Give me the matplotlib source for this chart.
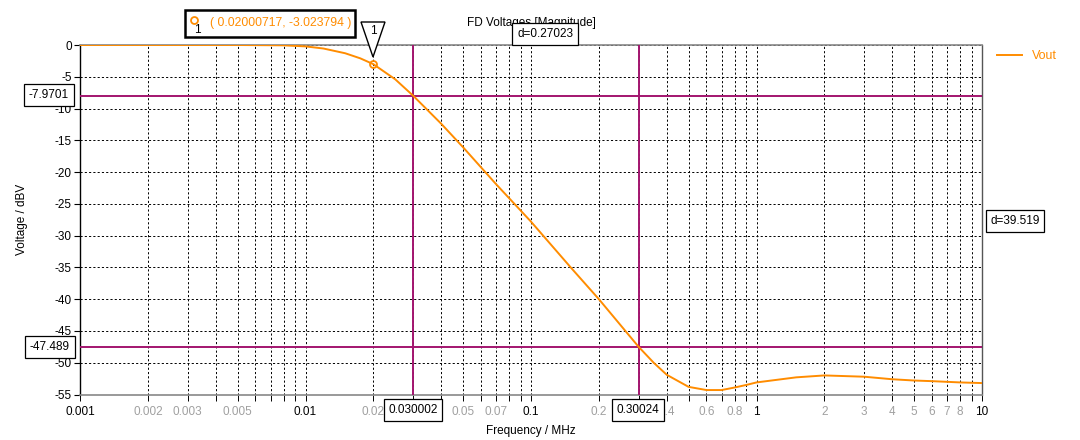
import matplotlib
matplotlib.use("Agg")
import matplotlib.pyplot as plt
from matplotlib.lines import Line2D
from matplotlib.patches import Rectangle, Polygon
from matplotlib.ticker import FixedLocator, FixedFormatter

# ---------------- data ----------------
freq_mhz = [0.001, 0.002, 0.005, 0.008, 0.01, 0.012, 0.015, 0.0175, 0.02, 0.025,
            0.03, 0.04, 0.05, 0.07, 0.1, 0.15, 0.2, 0.3, 0.35, 0.4,
            0.5, 0.6, 0.7, 0.8, 0.9, 1, 1.5, 2, 3, 4,
            5, 6, 8, 10]
vout_dbv = [0, 0, 0, -0.05, -0.22, -0.55, -1.3, -2.1, -3.02, -5.4,
            -7.97, -12.4, -16.1, -21.9, -27.8, -35.0, -40.0, -47.49, -50.0, -51.9,
            -53.8, -54.3, -54.3, -53.9, -53.5, -53.1, -52.3, -52.0, -52.2, -52.6,
            -52.8, -52.9, -53.1, -53.2]

marker_f = 0.02000717
marker_v = -3.023794
cursor_x = [0.030002, 0.30024]
cursor_y = [-7.9701, -47.489]
cursor_dx = 0.27023
cursor_dy = 39.519

major_ticks = [0.001, 0.01, 0.1, 1, 10]
major_labels = ["0.001", "0.01", "0.1", "1", "10"]
minor_ticks = [m * d for d in [0.001, 0.01, 0.1, 1] for m in range(2, 10)]
minor_shown = {0.002: "0.002", 0.003: "0.003", 0.005: "0.005",
               0.02: "0.02", 0.05: "0.05", 0.07: "0.07",
               0.2: "0.2", 0.4: "0.4", 0.6: "0.6", 0.8: "0.8",
               2: "2", 3: "3", 4: "4", 5: "5", 6: "6", 7: "7", 8: "8"}
y_ticks = list(range(0, -56, -5))

# ---------------- style ----------------
FONT = "Liberation Sans"
FS = 8.5
ORANGE = "#ff8c00"
PURPLE = "#a3156f"
GRAY = "#a0a0a0"

plt.rcParams['font.family'] = [FONT, 'DejaVu Sans']
plt.rcParams['font.size'] = FS

W, H = 1080, 440
fig = plt.figure(figsize=(W / 100, H / 100), dpi=100)
fig.patch.set_facecolor("white")


def px(x, y):
    return (x / W, 1 - y / H)


L, R, T, B = 80, 982, 45, 394.5
ax = fig.add_axes([L / W, 1 - B / H, (R - L) / W, (B - T) / H])

ax.set_xscale("log")
ax.set_xlim(0.001, 10)
ax.set_ylim(-55, 0)

ax.xaxis.set_major_locator(FixedLocator(major_ticks))
ax.xaxis.set_major_formatter(FixedFormatter(major_labels))
mt_round = [round(t, 6) for t in minor_ticks]
ax.xaxis.set_minor_locator(FixedLocator(minor_ticks))
ax.xaxis.set_minor_formatter(FixedFormatter([minor_shown.get(t, "") for t in mt_round]))
ax.set_yticks(y_ticks)
ax.set_yticklabels([str(v) for v in y_ticks])

grid_kw = dict(color="black", linestyle=(0, (2.2, 2.2)), linewidth=0.7)
ax.grid(True, which="major", axis="both", **grid_kw)
ax.grid(True, which="minor", axis="x", **grid_kw)

ax.tick_params(axis="x", which="both", direction="out", length=4, width=0.7,
               color="black", pad=4, labelsize=FS)
ax.tick_params(axis="x", which="minor", labelcolor=GRAY)
ax.tick_params(axis="x", which="major", labelcolor="black")
ax.tick_params(axis="y", which="both", direction="out", length=4, width=0.8,
               color="black", pad=2, labelsize=FS)

for side, col, lw in [("left", "black", 1.0), ("bottom", "#888888", 1.2),
                      ("top", "#888888", 1.2), ("right", "#555555", 1.0)]:
    ax.spines[side].set_color(col)
    ax.spines[side].set_linewidth(lw)

# cursors
for cx in cursor_x:
    ax.axvline(cx, color=PURPLE, linewidth=1.4, zorder=3)
for cy in cursor_y:
    ax.axhline(cy, color=PURPLE, linewidth=1.4, zorder=3)

# curve
ax.plot(freq_mhz, vout_dbv, color=ORANGE, linewidth=1.4, label="Vout", zorder=4)
ax.plot([marker_f], [marker_v], marker="o", markersize=5, markerfacecolor="none",
        markeredgecolor=ORANGE, markeredgewidth=1.3, zorder=5)

ax.set_xlabel("Frequency / MHz", fontsize=FS, labelpad=5)
ax.set_ylabel("Voltage / dBV", fontsize=FS, labelpad=19)

ax.set_title("FD Voltages [Magnitude]", fontsize=FS, pad=14)

# legend
ax.legend(loc="center left", bbox_to_anchor=px(997, 56), bbox_transform=fig.transFigure,
          frameon=False, fontsize=FS + 0.5, handlelength=2.0, handletextpad=0.8,
          borderpad=0, borderaxespad=0, labelcolor=ORANGE)

# cursor value boxes
box = dict(boxstyle="square,pad=0.4", fc="white", ec="black", lw=0.9)
fig.text(*px(413, 410), f"{cursor_x[0]:.6f}", ha="center", va="center", fontsize=FS, bbox=box, zorder=10)
fig.text(*px(638, 410), f"{cursor_x[1]:.5f}", ha="center", va="center", fontsize=FS, bbox=box, zorder=10)
fig.text(*px(49, 95), f"{cursor_y[0]:.4f}", ha="center", va="center", fontsize=FS, bbox=box, zorder=10)
fig.text(*px(50, 347), f"{cursor_y[1]:.3f}", ha="center", va="center", fontsize=FS, bbox=box, zorder=10)
fig.text(*px(545, 34), f"d={cursor_dx:.5f}", ha="center", va="center", fontsize=FS, bbox=box, zorder=10)
fig.text(*px(1015, 221), f"d={cursor_dy:.3f}", ha="center", va="center", fontsize=FS, bbox=box, zorder=10)

# marker annotation box (top-left)
x0, y0 = px(185, 37)
x1, y1 = px(355, 10)
fig.add_artist(Rectangle((x0, y0), x1 - x0, y1 - y0, transform=fig.transFigure,
                         fc="white", ec="black", lw=1.8, zorder=9))
fig.add_artist(Line2D([px(194, 20)[0]], [px(194, 20)[1]], marker="o", markersize=5,
                      markerfacecolor="none", markeredgecolor=ORANGE, markeredgewidth=1.3,
                      transform=fig.transFigure, zorder=10))
fig.text(*px(197, 30), "1", ha="center", va="center", fontsize=FS, color="black", zorder=10)
fig.text(*px(210, 23), f"( {marker_f:.8f}, {marker_v:.6f} )", ha="left", va="center",
         fontsize=FS + 0.3, color=ORANGE, zorder=10)

# triangle marker flag
tri = [px(361, 22), px(385, 22), px(373, 57)]
fig.add_artist(Polygon(tri, closed=True, transform=fig.transFigure, fc="white",
                       ec="black", lw=1.0, zorder=9))
fig.text(*px(373, 31), "1", ha="center", va="center", fontsize=FS, color="black", zorder=10)

fig.savefig("out.png", dpi=100)
